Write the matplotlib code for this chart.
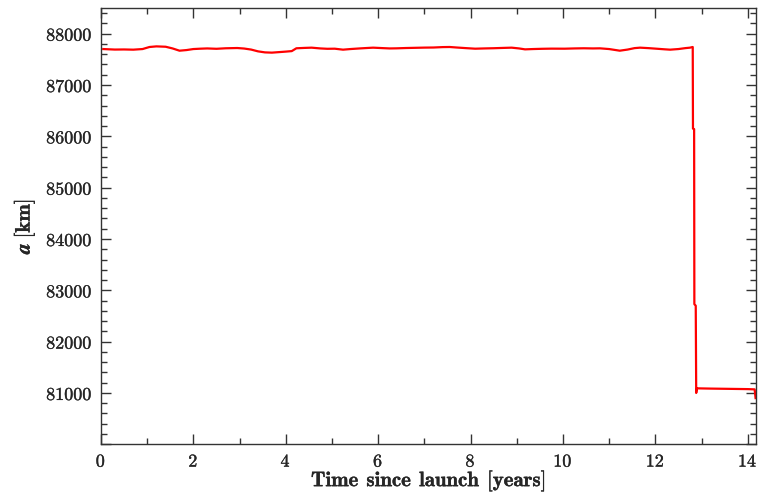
import numpy as np
import matplotlib
matplotlib.use('Agg')
import matplotlib.pyplot as plt
import matplotlib.patheffects as pe
from matplotlib.ticker import MultipleLocator, FuncFormatter

plt.rcParams['mathtext.fontset'] = 'cm'

# semi-major axis vs time
t_years = [0.05, 0.3, 0.5, 0.7, 0.9, 1.05, 1.2, 1.4, 1.55, 1.7, 1.85, 2.0, 2.15, 2.3,
           2.5, 2.7, 2.95, 3.1, 3.25, 3.4, 3.55, 3.7, 3.85, 4.0, 4.13, 4.23, 4.4,
           4.56, 4.75, 4.9, 5.06, 5.24, 5.4, 5.6, 5.75, 5.89, 6.1, 6.25, 6.4, 6.6,
           6.8, 7.0, 7.2, 7.4, 7.55, 7.7, 7.9, 8.1, 8.3, 8.5, 8.7, 8.89, 9.05, 9.18,
           9.35, 9.55, 9.75, 10.04, 10.25, 10.45, 10.65, 10.8, 11.0, 11.23, 11.4,
           11.55, 11.67, 11.85, 12.05, 12.2, 12.32, 12.5, 12.65, 12.75, 12.81,
           12.815, 12.84, 12.845, 12.875, 12.885, 12.9, 13.2, 13.6, 14.0, 14.15, 14.17]
a_km = [87700, 87690, 87692, 87688, 87700, 87740, 87752, 87745, 87712, 87668, 87680,
        87700, 87707, 87712, 87705, 87715, 87720, 87710, 87690, 87655, 87635, 87630,
        87640, 87650, 87660, 87715, 87722, 87727, 87712, 87705, 87707, 87688, 87700,
        87712, 87720, 87727, 87718, 87712, 87714, 87720, 87724, 87728, 87730, 87738,
        87740, 87730, 87718, 87707, 87712, 87716, 87722, 87727, 87712, 87694, 87700,
        87705, 87708, 87707, 87712, 87715, 87712, 87714, 87700, 87668, 87690, 87718,
        87727, 87718, 87705, 87695, 87688, 87700, 87718, 87727, 87740,
        86150, 86140, 82730, 82700, 81000, 81090, 81085, 81080, 81075, 81070, 80900]

fig = plt.figure(figsize=(7.58, 4.93), dpi=100)
ax = fig.add_axes([0.1332, 0.0988, 0.8642, 0.885])

ax.plot(t_years, a_km, color='red', lw=1.6)

ax.set_xlim(0, 14.18)
ax.set_ylim(80000, 88500)

ax.xaxis.set_major_locator(MultipleLocator(2))
ax.xaxis.set_minor_locator(MultipleLocator(1))
ax.yaxis.set_major_locator(MultipleLocator(1000))
ax.yaxis.set_minor_locator(MultipleLocator(200))

def fmt(v, pos):
    if v < 80500:
        return ''
    return r'$\mathbf{%d}$' % v

ax.xaxis.set_major_formatter(FuncFormatter(lambda v, p: r'$\mathbf{%d}$' % v))
ax.yaxis.set_major_formatter(FuncFormatter(fmt))

edge = '#333333'
txt = '#262626'
for s in ax.spines.values():
    s.set_color(edge)
    s.set_linewidth(1.0)
ax.tick_params(which='both', direction='in', top=True, right=True, colors=edge,
               labelcolor=txt, labelsize=13, pad=6)
ax.tick_params(which='major', length=7.5, width=1.0)
ax.tick_params(which='minor', length=4.5, width=1.0)

ax.set_xlabel(r'$\mathbf{Time\;\,since\;\,launch\;\,[years]}$', fontsize=15,
              color=txt, labelpad=-1)
ax.set_ylabel(r'$\boldsymbol{a}\;\mathbf{[km]}$', fontsize=15, color=txt, labelpad=7)

# slightly heavier text, closer to the original rendering
thick = [pe.withStroke(linewidth=0.25, foreground=txt)]
for lab in ax.get_xticklabels() + ax.get_yticklabels() + [ax.xaxis.label, ax.yaxis.label]:
    lab.set_path_effects(thick)

fig.savefig('out.png', dpi=100)
